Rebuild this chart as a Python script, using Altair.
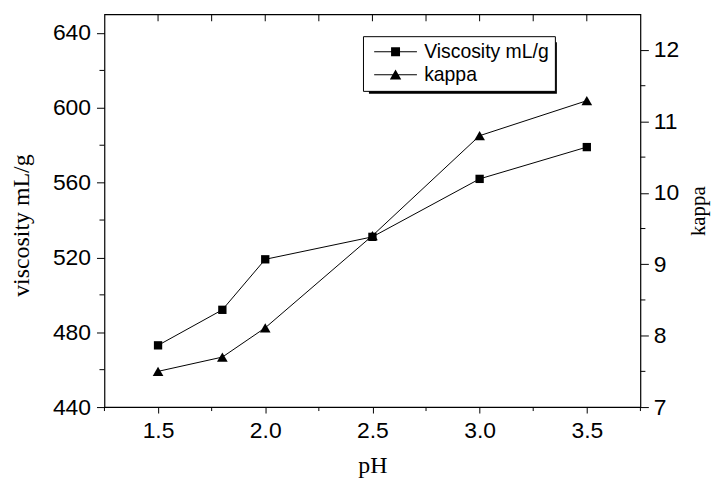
import altair as alt
import pandas as pd

# ---- data ----
ph = [1.5, 1.8, 2.0, 2.5, 3.0, 3.5]
viscosity = [473, 492, 519, 531, 562, 579]
kappa = [7.50, 7.70, 8.11, 9.40, 10.80, 11.29]
series_names = ["Viscosity mL/g", "kappa"]

x_major = [1.5, 2.0, 2.5, 3.0, 3.5]
x_minor = [1.25, 1.75, 2.25, 2.75, 3.25, 3.75]
top_ticks = [1.5, 1.75, 2.0, 2.25, 2.5, 2.75, 3.0, 3.25, 3.5]
visc_major = [440, 480, 520, 560, 600, 640]
visc_minor = [460, 500, 540, 580, 620]
kappa_major = [7, 8, 9, 10, 11, 12]
kappa_minor = [7.5, 8.5, 9.5, 10.5, 11.5]

df = pd.DataFrame({"pH": ph, "viscosity": viscosity, "kappa": kappa})
legend_df = pd.DataFrame({"series": series_names,
                          "pH": [ph[0]] * 2,
                          "viscosity": [viscosity[0]] * 2})
top_df = pd.DataFrame({"pH": top_ticks})
xminor_df = pd.DataFrame({"pH": x_minor})
vminor_df = pd.DataFrame({"viscosity": visc_minor})
kminor_df = pd.DataFrame({"kappa": kappa_minor})

SANS = "Liberation Sans"
SERIF = "Liberation Serif"

# legend symbols: thin filled bar (the line) plus the marker, all filled
sym_square = "M-4.3,-0.1H4.3V0.1H-4.3Z M-0.9,-0.9H0.9V0.9H-0.9Z"
sym_tri = "M-4.3,-0.1H4.3V0.1H-4.3Z M0,-1.05L1.15,0.95H-1.15Z"

x_scale = alt.Scale(domain=[1.25, 3.75], nice=False, zero=False)
x_enc = alt.X(
    "pH:Q", scale=x_scale,
    axis=alt.Axis(values=x_major, title="pH", format=".1f", tickSize=6,
                  labelPadding=7, titlePadding=11),
)

visc_y = alt.Y(
    "viscosity:Q",
    scale=alt.Scale(domain=[440, 650], nice=False, zero=False),
    axis=alt.Axis(orient="left", values=visc_major, title="viscosity mL/g", format="d",
                  tickSize=8, labelPadding=6, titlePadding=19, titleY=212),
)
kappa_y = alt.Y(
    "kappa:Q",
    scale=alt.Scale(domain=[7, 12.5], nice=False, zero=False),
    axis=alt.Axis(orient="right", values=kappa_major, title="kappa", format="d",
                  tickSize=8, labelPadding=5, titlePadding=9, titleAngle=270,
                  titleBaseline="top", titleFontSize=21),
)

base = alt.Chart(df)

shadow = alt.Chart(pd.DataFrame({"a": [0]})).mark_rect(color="black").encode(
    x=alt.value(266), x2=alt.value(455), y=alt.value(28), y2=alt.value(80)
)
top_rules = alt.Chart(top_df).mark_rule(color="black", strokeWidth=1).encode(
    x=x_enc, y=alt.value(0), y2=alt.value(7)
)
xminor_rules = alt.Chart(xminor_df).mark_rule(color="black", strokeWidth=1).encode(
    x=x_enc, y=alt.value(395), y2=alt.value(399)
)
vminor_rules = alt.Chart(vminor_df).mark_rule(color="black", strokeWidth=1).encode(
    y=visc_y, x=alt.value(-5), x2=alt.value(0)
)
kminor_rules = alt.Chart(kminor_df).mark_rule(color="black", strokeWidth=1).encode(
    y=kappa_y, x=alt.value(539), x2=alt.value(544)
)

visc_line = base.mark_line(color="black", strokeWidth=1).encode(x=x_enc, y=visc_y)
visc_pts = base.mark_point(shape="square", filled=True, color="black", size=70, opacity=1).encode(x=x_enc, y=visc_y)
legend_pts = alt.Chart(legend_df).mark_point(filled=True, color="black", opacity=0).encode(
    x=x_enc, y=visc_y,
    shape=alt.Shape(
        "series:N",
        scale=alt.Scale(domain=series_names, range=[sym_square, sym_tri]),
        legend=alt.Legend(
            title=None, orient="none", legendX=260, legendY=22, direction="vertical",
            fillColor="white", strokeColor="black", padding=6, rowPadding=2,
            labelFont=SANS, labelFontSize=19.5, labelColor="black", labelLimit=0,
            symbolSize=100, symbolFillColor="black", symbolStrokeWidth=0,
            symbolOpacity=1, symbolOffset=17, labelOffset=19,
        ),
    ),
)

kappa_line = base.mark_line(color="black", strokeWidth=1).encode(x=x_enc, y=kappa_y)
kappa_pts = base.mark_point(shape="triangle-up", filled=True, color="black", size=115, opacity=1).encode(x=x_enc, y=kappa_y)

visc_layer = alt.layer(shadow, visc_line, visc_pts, legend_pts, top_rules, xminor_rules, vminor_rules)
kappa_layer = alt.layer(kappa_line, kappa_pts, kminor_rules)

chart = alt.layer(visc_layer, kappa_layer).resolve_scale(y="independent").properties(
    width=539, height=395,
    autosize=alt.AutoSizeParams(type="none"),
    padding={"left": 97, "top": 5, "right": 72, "bottom": 70},
).configure_view(
    stroke="black", strokeWidth=1.2
).configure_axis(
    grid=False, domain=False, tickColor="black", tickWidth=1,
    labelColor="black", titleColor="black",
    labelFont=SANS, labelFontSize=23,
    titleFont=SERIF, titleFontSize=24, titleFontWeight="normal",
)

chart.save("out.html", embed_options={"renderer": "svg", "actions": False})
